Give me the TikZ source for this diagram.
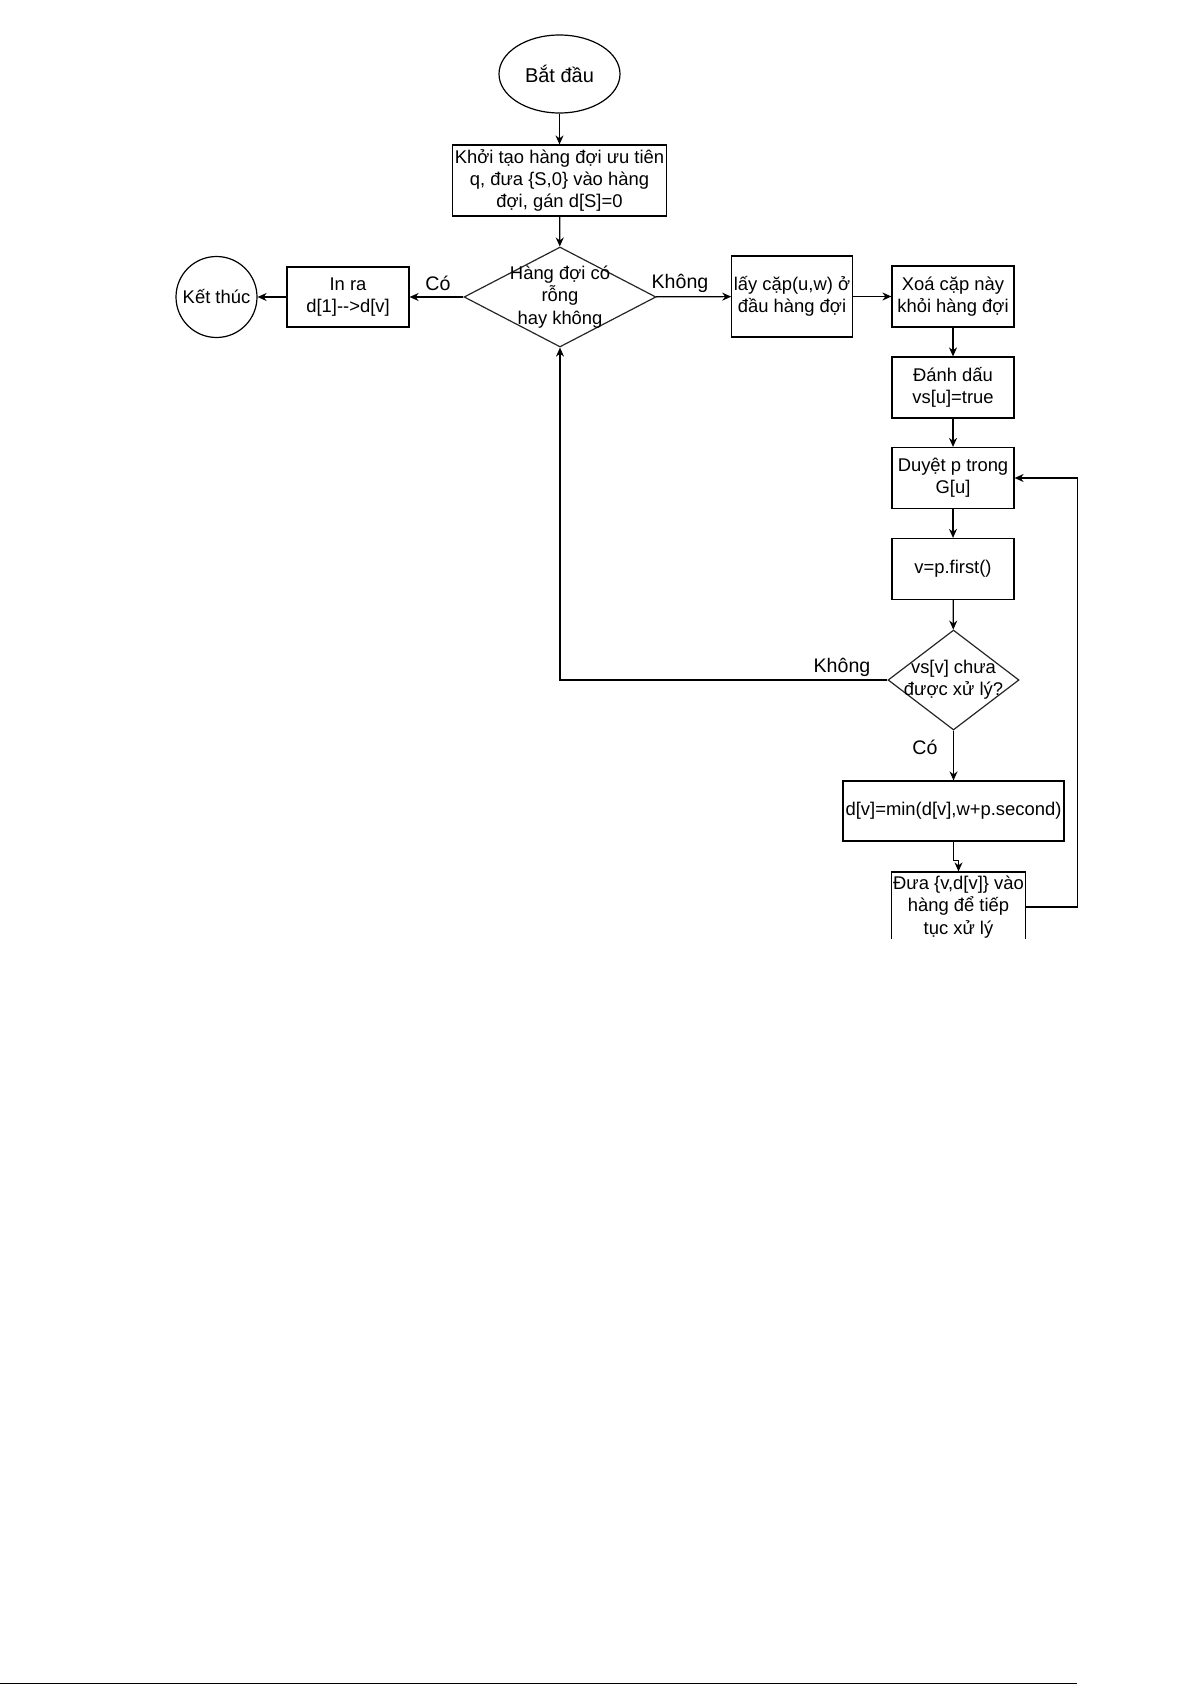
\documentclass[tikz,border=0pt]{standalone}
\usepackage{fontspec}
\setmainfont{Liberation Sans}
\usetikzlibrary{arrows.meta,shapes}
\tikzstyle{box}=[draw,rectangle,line width=0.6pt,align=center,inner sep=1pt,font=\fontsize{9.2}{11.1}\selectfont]
\tikzstyle{terminal}=[box,ellipse,inner sep=0pt]
\tikzstyle{decision}=[draw=black!85,diamond,line width=0.6pt,inner sep=0pt]
\tikzstyle{decision text}=[align=center,inner sep=0pt,font=\fontsize{9.2}{11.1}\selectfont]
\tikzstyle{answer}=[font=\fontsize{9.8}{11.5}\selectfont]
\tikzstyle{edge}=[draw,line width=0.6pt,-{Stealth[length=4.5pt,width=4pt]}]

\begin{document}
\begin{tikzpicture}[x=0.5pt,y=-0.5pt]
    \useasboundingbox (0,0) rectangle (1192,1685);
    \begin{scope}
    \clip (0,0) rectangle (1192,938);
    % First we draw the blocks
    \node[terminal,minimum width=60.5pt,minimum height=39pt,font=\fontsize{10}{12}\selectfont] (start) at (559.5,74) {Bắt đầu};
    \node[box,minimum width=106.5pt,minimum height=35.5pt] (init) at (559.5,180.5) {Khởi tạo hàng đợi ưu tiên\\q, đưa \{S,0\} vào hàng\\đợi, gán d[S]=0};
    \node[decision,minimum width=96pt,minimum height=50pt,label={[decision text]center:Hàng đợi có\\rỗng\\hay không}] (q1) at (560,297) {};
    \node[box,minimum width=61pt,minimum height=30pt] (inra) at (348,297) {In ra\\d[1]{-}{-}>d[v]};
    \node[box,circle,minimum size=40.5pt,inner sep=0pt] (kt) at (216.5,297) {Kết thúc};
    \node[box,minimum width=60pt,minimum height=40.5pt] (lay) at (792,296.5) {lấy cặp(u,w) ở\\đầu hàng đợi};
    \foreach \pos/\name/\txt in {{(953,296.5)/xoa/{Xoá cặp này\\khỏi hàng đợi}}, {(953,387.5)/dd/{Đánh dấu\\vs[u]=true}}, {(953,478)/duyet/{Duyệt p trong\\G[u]}}, {(953,569)/first/{v=p.first()}}}
        \node[box,minimum width=61pt,minimum height=30.5pt] (\name) at \pos {\txt};
    \node[decision,minimum width=65.5pt,minimum height=50pt,label={[decision text]center:vs[v] chưa\\được xử lý?}] (q2) at (953.5,680) {};
    \node[box,minimum width=110.5pt,minimum height=30pt] (min) at (953.5,811) {d[v]=min(d[v],w+p.second)};
    \node[box,minimum width=65.5pt,minimum height=35pt] (dua) at (958.5,907) {Đưa \{v,d[v]\} vào\\hàng để tiếp\\tục xử lý};

    % Answers
    \node[answer] (yes1) at (438,283) {Có};
    \node[answer] (no1) at (680,283) {Không};
    \node[answer] (no2) at (842,667) {Không};
    \node[answer] (yes2) at (925,747) {Có};

    % Connect blocks with edges
    \foreach \source/ \dest in {start/init, init/q1, q1/inra, inra/kt, q1/lay, lay/xoa, xoa/dd, dd/duyet, duyet/first, first/q2, q2/min}
        \path[edge] (\source) -- (\dest) ;
    \path[edge] (q2.west) -| (q1.south);
    \path[edge] (min.south) -- ++(0,19) -| (dua.north);
    \path[edge] (dua.east) -- ++(51,0) |- (duyet.east);
    \end{scope}
    \draw[line width=0.8pt] (0,1683.5) -- (1077,1683.5);
\end{tikzpicture}
\end{document}
